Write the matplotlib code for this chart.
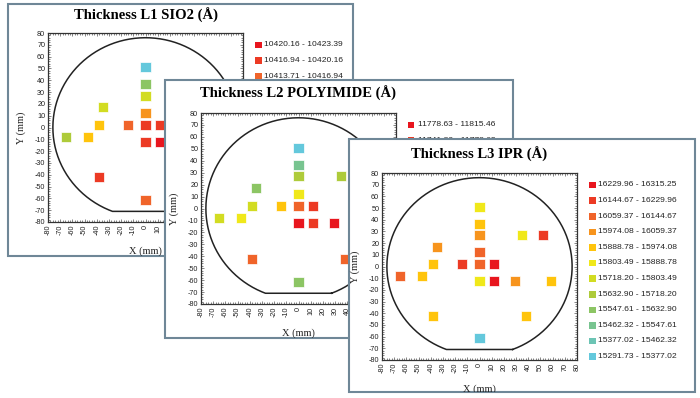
import numpy as np
import matplotlib
matplotlib.use('Agg')
import matplotlib.pyplot as plt
from matplotlib.patches import Rectangle
from matplotlib.ticker import MultipleLocator, FuncFormatter

W, H = 700, 398  # tamaño de la imagen en pixeles
plt.rcParams['axes.unicode_minus'] = False

# Colores de los 12 intervalos de la escala (de mayor a menor espesor)
BIN_COLORS = ['#e8161e', '#ec3a24', '#f0642a', '#f7941d', '#ffc40c', '#f0e81a',
              '#d2dc22', '#aecb3a', '#8cc564', '#78c490', '#6cc4b4', '#64c8dc']

# Sitios de medicion sobre la oblea (mm)
SITE_X = [0, 0, 0, 0, 0, 11.5, 11.5, 0, 29, 58.5, 35, 52.5, -14.5, -38, -35, -47, -65, -38, 38, 0]
SITE_Y = [51, 36.5, 27, 12, 2, 2, -12.5, -12.5, -12.5, -12.5, 27, 27, 2, 2, 17, -8, -8, -42, -42, -61.5]

# Intervalo de color de cada sitio (-1 = tapado en la imagen)
L1_BIN = [11, 8, 6, 3, 1, 1, 0, 1, -1, -1, -1, -1, 2, 4, 6, 4, 7, 1, -1, 2]
L2_BIN = [11, 9, 7, 5, 2, 1, 1, 0, 0, -1, 7, -1, 4, 6, 8, 5, 6, 2, 2, 8]
L3_BIN = [5, 4, 3, 2, 2, 0, 0, 5, 3, 4, 5, 1, 1, 4, 3, 4, 2, 4, 4, 11]

L1_LABELS = ['10420.16 - 10423.39', '10416.94 - 10420.16', '10413.71 - 10416.94']
L2_LABELS = ['11778.63 - 11815.46', '11741.80 - 11778.63']
L3_LABELS = ['16229.96 - 16315.25', '16144.67 - 16229.96', '16059.37 - 16144.67',
             '15974.08 - 16059.37', '15888.78 - 15974.08', '15803.49 - 15888.78',
             '15718.20 - 15803.49', '15632.90 - 15718.20', '15547.61 - 15632.90',
             '15462.32 - 15547.61', '15377.02 - 15462.32', '15291.73 - 15377.02']

TITLES = ['Thickness L1 SIO2 (Å)', 'Thickness L2 POLYIMIDE (Å)', 'Thickness L3 IPR (Å)']

# Contorno de la oblea: circulo con corte plano abajo
WAFER_R = 76
FLAT_Y = -71

FRAME_COLOR = '#6f8797'
SERIF = 'Liberation Serif'
SANS = 'Liberation Sans'


def fx(x):
    return x / W


def fy(y):
    return 1 - y / H


def draw_panel(fig, frame, axbox, title_dy, z, title, bins, labels, xlab_max=80):
    x0, y0, x1, y1 = frame
    rect = Rectangle((fx(x0), fy(y1)), (x1 - x0) / W, (y1 - y0) / H,
                     transform=fig.transFigure, facecolor='white',
                     edgecolor=FRAME_COLOR, linewidth=1.5, zorder=z)
    fig.patches.append(rect)

    ax0, ay0, ax1, ay1 = axbox
    ax = fig.add_axes([fx(ax0), fy(ay1), (ax1 - ax0) / W, (ay1 - ay0) / H], zorder=z + 1)
    ax.set_facecolor('white')
    ax.set_xlim(-80, 80)
    ax.set_ylim(-80, 80)
    ax.xaxis.set_major_locator(MultipleLocator(10))
    ax.yaxis.set_major_locator(MultipleLocator(10))
    ax.xaxis.set_minor_locator(MultipleLocator(2))
    ax.yaxis.set_minor_locator(MultipleLocator(2))
    # las etiquetas tapadas por el panel siguiente no se escriben
    ax.xaxis.set_major_formatter(FuncFormatter(
        lambda v, p: '%d' % v if v <= xlab_max else ''))
    ax.tick_params(which='both', direction='in', top=True, right=True,
                   color='#555555', width=0.5)
    ax.tick_params(which='major', length=2.5, labelsize=5.2, pad=2)
    ax.tick_params(which='minor', length=1.2)
    ax.tick_params(axis='x', labelrotation=90)
    for lab in ax.get_xticklabels() + ax.get_yticklabels():
        lab.set_family(SANS)
        lab.set_color('#222222')
    for sp in ax.spines.values():
        sp.set_color('#333333')
        sp.set_linewidth(0.9)

    # contorno de la oblea (arco + corte plano)
    half = np.arcsin(FLAT_Y / WAFER_R)
    th = np.linspace(half, np.pi - half, 400)
    wx = WAFER_R * np.cos(th)
    wy = WAFER_R * np.sin(th)
    wx = np.append(wx, wx[0])
    wy = np.append(wy, wy[0])
    ax.plot(wx, wy, color='#222222', lw=1.1)

    # sitios medidos
    sx = [x for x, b in zip(SITE_X, bins) if b >= 0]
    sy = [y for y, b in zip(SITE_Y, bins) if b >= 0]
    sc = [BIN_COLORS[b] for b in bins if b >= 0]
    ax.scatter(sx, sy, s=52, marker='s', c=sc, edgecolors='#ffffff',
               linewidths=0.5, zorder=3)

    cx = (ax0 + ax1) / 2
    cy = (ay0 + ay1) / 2
    fig.text(fx(cx), fy(ay0 - title_dy), title, ha='center', va='center',
             family=SERIF, weight='bold', fontsize=10.5, zorder=z + 2)
    fig.text(fx(ax0 - 27), fy(cy), 'Y (mm)', ha='center', va='center', rotation=90,
             family=SERIF, fontsize=7.5, color='#222222', zorder=z + 2)
    xl = fig.text(fx(cx), fy(ay1 + 29), 'X (mm)', ha='center', va='center',
                  family=SERIF, fontsize=7.5, color='#222222', zorder=z + 2)
    xl.set_clip_path(rect)

    # leyenda de intervalos
    for i, lab in enumerate(labels):
        ry = ay0 + 12 + i * 15.6
        sq = Rectangle((fx(ax1 + 12), fy(ry + 3.3)), 6.5 / W, 6.5 / H,
                       transform=fig.transFigure, facecolor=BIN_COLORS[i],
                       edgecolor='none', zorder=z + 2)
        fig.patches.append(sq)
        fig.text(fx(ax1 + 21.5), fy(ry), lab, ha='left', va='center',
                 family=SANS, fontsize=6.1, color='#222222', zorder=z + 2)
    return ax


fig = plt.figure(figsize=(7, 3.98), dpi=100)
fig.patch.set_facecolor('white')

draw_panel(fig, (8, 4, 353, 256), (48, 33, 243, 222), 18, 10, TITLES[0], L1_BIN, L1_LABELS,
           xlab_max=10)
draw_panel(fig, (165, 80, 513, 338), (201, 113, 396, 304), 20, 20, TITLES[1], L2_BIN, L2_LABELS,
           xlab_max=40)
draw_panel(fig, (349, 139, 695, 392), (382, 173, 577, 360), 19, 30, TITLES[2], L3_BIN, L3_LABELS)

fig.savefig('out.png', dpi=100, facecolor='white')
